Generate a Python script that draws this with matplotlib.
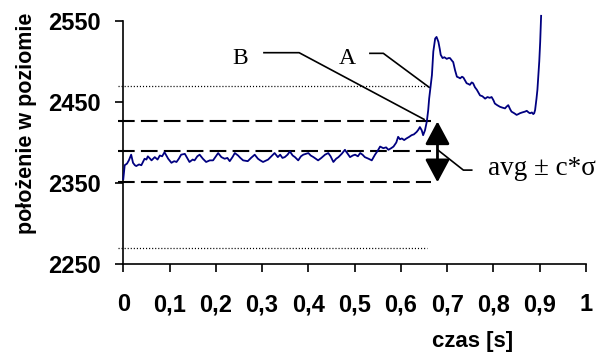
import matplotlib
matplotlib.use("Agg")
import matplotlib.pyplot as plt
from matplotlib.patches import FancyArrowPatch
import numpy as np

plt.rcParams['lines.scale_dashes'] = False

czas = [0.000, 0.003, 0.008, 0.012, 0.017, 0.021, 0.025, 0.028, 0.034, 0.039,
        0.046, 0.050, 0.053, 0.058, 0.061, 0.068, 0.074, 0.079, 0.084, 0.089,
        0.093, 0.097, 0.104, 0.110, 0.115, 0.120, 0.125, 0.133, 0.138, 0.143,
        0.150, 0.154, 0.160, 0.165, 0.172, 0.179, 0.187, 0.194, 0.200, 0.205,
        0.212, 0.219, 0.225, 0.230, 0.236, 0.241, 0.248, 0.253, 0.259, 0.269,
        0.276, 0.284, 0.291, 0.296, 0.302, 0.313, 0.320, 0.327, 0.334, 0.339,
        0.344, 0.349, 0.355, 0.360, 0.366, 0.371, 0.378, 0.384, 0.389, 0.400,
        0.405, 0.411, 0.416, 0.421, 0.428, 0.436, 0.443, 0.448, 0.454, 0.460,
        0.465, 0.472, 0.479, 0.485, 0.490, 0.496, 0.501, 0.507, 0.512, 0.517,
        0.522, 0.530, 0.537, 0.544, 0.550, 0.555, 0.562, 0.568, 0.573, 0.579,
        0.584, 0.590, 0.594, 0.598, 0.602, 0.607, 0.612, 0.618, 0.623, 0.628,
        0.634, 0.638, 0.641, 0.645, 0.648, 0.652, 0.656, 0.659, 0.661, 0.664,
        0.667, 0.670, 0.674, 0.677, 0.681, 0.684, 0.686, 0.690, 0.694, 0.699,
        0.703, 0.706, 0.710, 0.713, 0.717, 0.721, 0.725, 0.728, 0.732, 0.735,
        0.739, 0.742, 0.746, 0.749, 0.753, 0.756, 0.760, 0.764, 0.768, 0.771,
        0.776, 0.782, 0.787, 0.792, 0.796, 0.800, 0.803, 0.808, 0.814, 0.819,
        0.825, 0.828, 0.832, 0.836, 0.839, 0.845, 0.850, 0.854, 0.857, 0.862,
        0.868, 0.872, 0.876, 0.879, 0.883, 0.886, 0.888, 0.890, 0.893, 0.895,
        0.897, 0.899, 0.901, 0.903]
polozenie = [2355, 2372, 2374, 2378, 2385, 2375, 2372, 2371, 2373, 2372,
             2380, 2379, 2383, 2380, 2378, 2382, 2379, 2384, 2383, 2388,
             2384, 2380, 2375, 2377, 2376, 2380, 2385, 2386, 2381, 2376,
             2379, 2378, 2383, 2385, 2380, 2376, 2378, 2378, 2383, 2387,
             2382, 2380, 2381, 2377, 2382, 2387, 2384, 2381, 2378, 2377,
             2381, 2385, 2380, 2378, 2376, 2379, 2383, 2387, 2382, 2385,
             2381, 2382, 2385, 2389, 2384, 2382, 2378, 2383, 2385, 2387,
             2384, 2382, 2380, 2378, 2381, 2385, 2387, 2383, 2376, 2380,
             2382, 2386, 2391, 2386, 2382, 2384, 2385, 2383, 2387, 2385,
             2382, 2380, 2378, 2385, 2390, 2395, 2393, 2394, 2391, 2393,
             2395, 2400, 2407, 2404, 2405, 2403, 2405, 2407, 2409, 2410,
             2413, 2416, 2419, 2415, 2409, 2415, 2426, 2440, 2454, 2468,
             2483, 2512, 2528, 2530, 2524, 2515, 2508, 2504, 2505, 2503,
             2504, 2504, 2501, 2499, 2489, 2481, 2480, 2479, 2481, 2480,
             2476, 2473, 2472, 2471, 2474, 2473, 2468, 2465, 2461, 2458,
             2457, 2454, 2456, 2455, 2456, 2452, 2448, 2446, 2444, 2443,
             2442, 2444, 2446, 2441, 2438, 2436, 2434, 2435, 2436, 2437,
             2438, 2439, 2437, 2436, 2437, 2435, 2436, 2440, 2454, 2465,
             2483, 2500, 2524, 2556]

# threshold levels
avg = 2389
gorny = 2426      # avg + c*sigma
dolny = 2351      # avg - c*sigma
kropki_gora = 2469
kropki_dol = 2270

xticks = [0, 0.1, 0.2, 0.3, 0.4, 0.5, 0.6, 0.7, 0.8, 0.9, 1]
xlabels = ['0', '0,1', '0,2', '0,3', '0,4', '0,5', '0,6', '0,7', '0,8', '0,9', '1']
yticks = [2250, 2350, 2450, 2550]

fig = plt.figure(figsize=(6.04, 3.55), dpi=100)
ax = fig.add_axes([123.3/604, 1-264.3/355, (586-123.3)/604, (264.3-20.7)/355])

ax.plot(czas, polozenie, color='#000080', lw=1.3, clip_on=False, zorder=3)

# dashed / dotted levels
for lvl in [gorny, avg, dolny]:
    ax.plot([-0.011, 0.665], [lvl, lvl], color='black', lw=1.5,
            dashes=(12, 4.5), clip_on=False, zorder=2)
ax.plot([-0.012, 0.661], [kropki_gora, kropki_gora], color='black', lw=0.9,
        dashes=(0.8, 1.4), clip_on=False)
ax.plot([-0.012, 0.657], [kropki_dol, kropki_dol], color='black', lw=0.9,
        dashes=(0.8, 1.4), clip_on=False)

# double arrow
arr = FancyArrowPatch((0.679, dolny), (0.679, gorny),
                      arrowstyle='<|-|>,head_length=14,head_width=7.5',
                      mutation_scale=1, color='black', lw=2,
                      shrinkA=0, shrinkB=0, clip_on=False, zorder=4)
ax.add_patch(arr)

# callouts
ax.plot([0.304, 0.380, 0.650], [2510.6, 2510.6, 2428.5], color='black', lw=1.2,
        clip_on=False)
ax.plot([0.533, 0.562, 0.661], [2509.8, 2509.8, 2468], color='black', lw=1.2,
        clip_on=False)
ax.plot([0.680, 0.735, 0.753], [2390.7, 2366, 2366], color='black', lw=1.2,
        clip_on=False)

serif = 'Liberation Serif'
ax.text(0.252, 2503, 'B', family=serif, fontsize=17, ha='center', va='center')
ax.text(0.483, 2503, 'A', family=serif, fontsize=17, ha='center', va='center')
ax.text(0.788, 2360, 'avg ± c*σ', family=serif, fontsize=19.5, ha='left',
        va='baseline', clip_on=False)

ax.set_xlim(0, 1)
ax.set_ylim(2250, 2550)
ax.set_xticks(xticks)
ax.set_xticklabels(xlabels)
ax.set_yticks(yticks)
ax.spines['top'].set_visible(False)
ax.spines['right'].set_visible(False)
for s in ['left', 'bottom']:
    ax.spines[s].set_linewidth(1.2)
ax.tick_params(axis='both', direction='out', length=6, width=1.2)
ax.tick_params(axis='x', pad=15)
ax.tick_params(axis='y', pad=10)
for lab in ax.get_xticklabels() + ax.get_yticklabels():
    lab.set_family('Liberation Sans')
    lab.set_fontweight('bold')
    lab.set_fontsize(17)

fig.text(27/604, 1-123/355, 'położenie w poziomie', family='Liberation Sans',
         fontweight='bold', fontsize=15.5, rotation=90, ha='center', va='center')
fig.text(473/604, 1-342/355, 'czas [s]', family='Liberation Sans',
         fontweight='bold', fontsize=16, ha='center', va='center')

fig.savefig('out.png', dpi=100)
